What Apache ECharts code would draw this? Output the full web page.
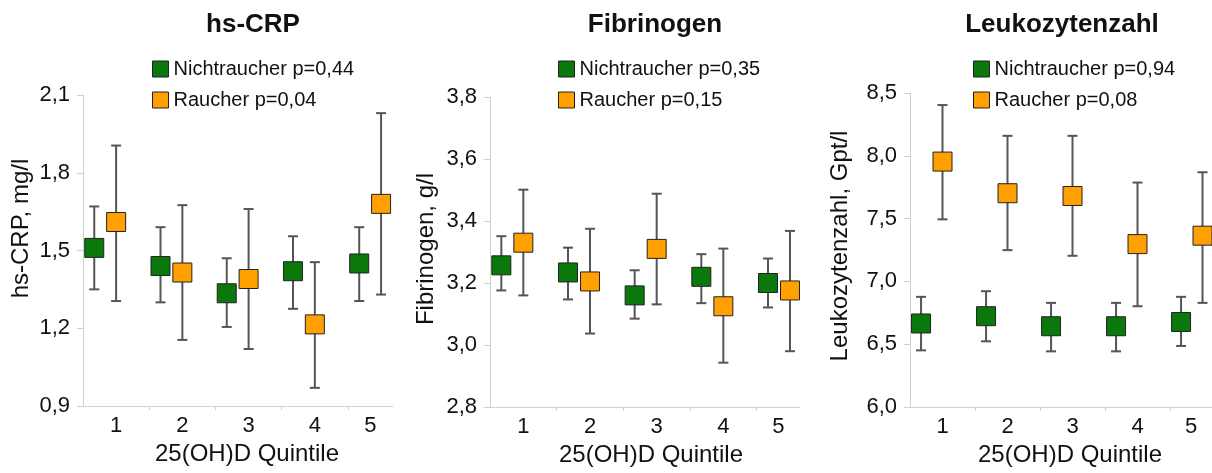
<!DOCTYPE html>
<html>
<head>
<meta charset="utf-8">
<script src="https://cdn.jsdelivr.net/npm/echarts@6/dist/echarts.min.js"></script>
<style>
html,body{margin:0;padding:0;background:#fff;}
#chart{width:1212px;height:473px;}
</style>
</head>
<body>
<div id="chart"></div>
<script>
// ---------- data ----------
var categories = ['1', '2', '3', '4', '5'];
var groupNames = ['Nichtraucher', 'Raucher'];

var panelTitles = ['hs-CRP', 'Fibrinogen', 'Leukozytenzahl'];
var yNames = ['hs-CRP, mg/l', 'Fibrinogen, g/l', 'Leukozytenzahl, Gpt/l'];
var xName = '25(OH)D Quintile';

var crpP = ['0,44', '0,04'];
var fibP = ['0,35', '0,15'];
var leuP = ['0,94', '0,08'];

var crpNichtMean = [1.51, 1.44, 1.335, 1.42, 1.45];
var crpNichtLow  = [1.35, 1.30, 1.205, 1.275, 1.305];
var crpNichtHigh = [1.67, 1.59, 1.47, 1.555, 1.59];
var crpRauchMean = [1.61, 1.415, 1.39, 1.215, 1.68];
var crpRauchLow  = [1.305, 1.155, 1.12, 0.97, 1.33];
var crpRauchHigh = [1.905, 1.675, 1.66, 1.455, 2.03];

var fibNichtMean = [3.257, 3.234, 3.16, 3.22, 3.20];
var fibNichtLow  = [3.176, 3.147, 3.085, 3.135, 3.121];
var fibNichtHigh = [3.351, 3.314, 3.241, 3.293, 3.279];
var fibRauchMean = [3.33, 3.205, 3.31, 3.125, 3.176];
var fibRauchLow  = [3.16, 3.037, 3.131, 2.943, 2.98];
var fibRauchHigh = [3.501, 3.375, 3.488, 3.311, 3.368];

var leuNichtMean = [6.665, 6.723, 6.643, 6.643, 6.677];
var leuNichtLow  = [6.451, 6.523, 6.443, 6.443, 6.486];
var leuNichtHigh = [6.877, 6.922, 6.829, 6.829, 6.877];
var leuRauchMean = [7.954, 7.702, 7.68, 7.297, 7.364];
var leuRauchLow  = [7.494, 7.249, 7.204, 6.802, 6.829];
var leuRauchHigh = [8.404, 8.159, 8.159, 7.787, 7.869];

var yTicksCrp = [0.9, 1.2, 1.5, 1.8, 2.1];
var yTicksFib = [2.8, 3.0, 3.2, 3.4, 3.6, 3.8];
var yTicksLeu = [6.0, 6.5, 7.0, 7.5, 8.0, 8.5];

// ---------- layout / style ----------
var FONT = '"Liberation Sans", Arial, sans-serif';
var GREEN = '#0a780a';
var ORANGE = '#ffa000';
var AXIS_GRAY = '#d0d0d0';
var offsets = [0.17, 0.5]; // position of the two groups within a category band

var panels = [
  { p: crpP, ticks: yTicksCrp, xmax: 4.68,
    groups: [[crpNichtMean, crpNichtLow, crpNichtHigh], [crpRauchMean, crpRauchLow, crpRauchHigh]],
    grid: { left: 83, top: 95, width: 310, height: 311 },
    titleX: 248, legendX: 147, yGap: 50, yShift: 44, xShift: 18 },
  { p: fibP, ticks: yTicksFib, xmax: 4.65,
    groups: [[fibNichtMean, fibNichtLow, fibNichtHigh], [fibRauchMean, fibRauchLow, fibRauchHigh]],
    grid: { left: 490, top: 97, width: 310, height: 310 },
    titleX: 650, legendX: 553, yGap: 52, yShift: 6, xShift: 12 },
  { p: leuP, ticks: yTicksLeu, xmax: 4.646,
    groups: [[leuNichtMean, leuNichtLow, leuNichtHigh], [leuRauchMean, leuRauchLow, leuRauchHigh]],
    grid: { left: 910, top: 93, width: 302, height: 314 },
    titleX: 1057, legendX: 968, yGap: 58, yShift: 8, xShift: 18 }
];

var option = {
  animation: false,
  backgroundColor: '#fff',
  textStyle: { fontFamily: FONT },
  title: [], legend: [], grid: [], xAxis: [], yAxis: [], series: []
};

panels.forEach(function (pn, i) {
  option.title.push({
    text: panelTitles[i], left: pn.titleX, top: 7, textAlign: 'center',
    textStyle: { fontFamily: FONT, fontSize: 26, fontWeight: 'bold', color: '#111' }
  });
  option.grid.push(pn.grid);

  var labelPos = [];
  var tickPos = [];
  for (var k = 0; k < categories.length; k++) {
    if (k < categories.length - 1) { labelPos.push(k + 0.5); tickPos.push(k + 1); }
    else { labelPos.push((k + pn.xmax) / 2); }
  }
  option.xAxis.push({
    type: 'value', gridIndex: i, min: 0, max: pn.xmax,
    name: xName, nameLocation: 'middle', nameGap: 30,
    nameTextStyle: { fontFamily: FONT, fontSize: 24, color: '#111', padding: [0, 0, 0, pn.xShift] },
    axisLine: { show: true, lineStyle: { color: AXIS_GRAY, width: 1 } },
    axisTick: { show: true, length: 4, customValues: tickPos, lineStyle: { color: AXIS_GRAY } },
    splitLine: { show: false },
    axisLabel: {
      customValues: labelPos, margin: 9, fontFamily: FONT, fontSize: 22, color: '#111',
      formatter: function (v) {
        var idx = Math.min(categories.length - 1, Math.floor(v));
        return categories[idx];
      }
    }
  });
  var tks = pn.ticks;
  option.yAxis.push({
    type: 'value', gridIndex: i, min: tks[0], max: tks[tks.length - 1],
    interval: Math.round((tks[1] - tks[0]) * 10) / 10,
    name: yNames[i], nameLocation: 'middle', nameGap: pn.yGap,
    nameTextStyle: { fontFamily: FONT, fontSize: 24, color: '#111', padding: [0, 0, 0, pn.yShift] },
    axisLine: { show: true, lineStyle: { color: AXIS_GRAY, width: 1 } },
    axisTick: { show: true, length: 6, lineStyle: { color: AXIS_GRAY } },
    splitLine: { show: false },
    axisLabel: {
      margin: 13, fontFamily: FONT, fontSize: 22, color: '#111',
      formatter: function (v) { return v.toFixed(1).replace('.', ','); }
    }
  });

  var legendNames = [];
  pn.groups.forEach(function (g, gi) {
    var name = groupNames[gi] + ' p=' + pn.p[gi];
    legendNames.push(name);
    var color = gi === 0 ? GREEN : ORANGE;
    var errData = [], ptData = [];
    for (var k = 0; k < categories.length; k++) {
      errData.push([k + offsets[gi], g[1][k], g[2][k]]);
      ptData.push([k + offsets[gi], g[0][k]]);
    }
    option.series.push({
      type: 'custom', name: name + ' SE', xAxisIndex: i, yAxisIndex: i, z: 2,
      encode: { x: 0, y: [1, 2] },
      data: errData,
      renderItem: function (params, api) {
        var x = api.value(0);
        var lo = api.coord([x, api.value(1)]);
        var hi = api.coord([x, api.value(2)]);
        var cw = 5;
        var st = { stroke: '#555', lineWidth: 2 };
        return {
          type: 'group',
          children: [
            { type: 'line', shape: { x1: lo[0], y1: lo[1], x2: hi[0], y2: hi[1] }, style: st },
            { type: 'line', shape: { x1: hi[0] - cw, y1: hi[1], x2: hi[0] + cw, y2: hi[1] }, style: st },
            { type: 'line', shape: { x1: lo[0] - cw, y1: lo[1], x2: lo[0] + cw, y2: lo[1] }, style: st }
          ]
        };
      }
    });
    option.series.push({
      type: 'scatter', name: name, xAxisIndex: i, yAxisIndex: i, z: 3,
      symbol: 'rect', symbolSize: 19,
      itemStyle: { color: color, borderColor: '#222', borderWidth: 1, opacity: 1 },
      emphasis: { disabled: true },
      data: ptData
    });
  });

  option.legend.push({
    data: legendNames.map(function (n) { return { name: n, icon: 'rect' }; }),
    left: pn.legendX, top: 54, orient: 'vertical',
    itemWidth: 16, itemHeight: 16, itemGap: 11,
    itemStyle: { borderColor: '#222', borderWidth: 1 },
    textStyle: { fontFamily: FONT, fontSize: 20, color: '#111' },
    selectedMode: false
  });
});

var chart = echarts.init(document.getElementById('chart'), null, { renderer: 'canvas' });
chart.setOption(option);
</script>
</body>
</html>
